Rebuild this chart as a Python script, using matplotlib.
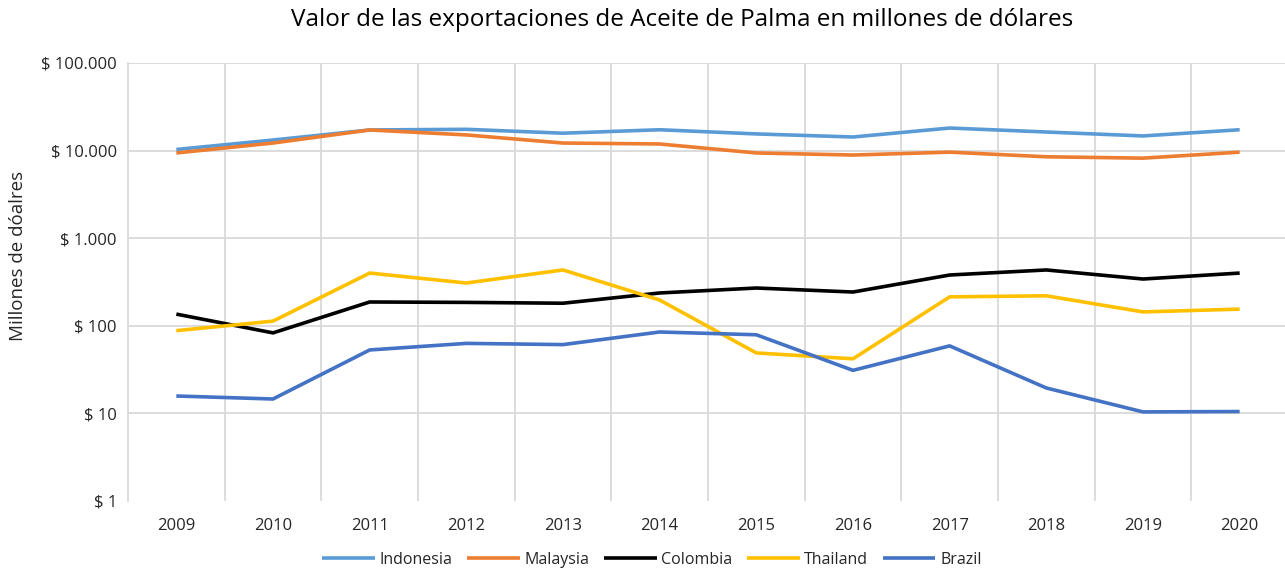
import matplotlib.pyplot as plt
from matplotlib.ticker import FixedLocator, FuncFormatter, NullLocator

plt.rcParams['font.family'] = ['Open Sans', 'DejaVu Sans']

years = ["2009", "2010", "2011", "2012", "2013", "2014",
         "2015", "2016", "2017", "2018", "2019", "2020"]

indonesia = [10300, 13200, 17200, 17500, 15800, 17300, 15500, 14300, 18100, 16300, 14700, 17300]
malaysia = [9400, 12200, 17200, 15100, 12200, 11900, 9400, 8900, 9600, 8500, 8200, 9600]
colombia = [136, 83, 187, 185, 181, 237, 270, 243, 380, 434, 342, 400]
thailand = [88, 113, 400, 308, 434, 197, 49, 42, 214, 220, 144, 155]
brazil = [15.8, 14.6, 53, 63, 61, 85, 79, 31, 59, 19.5, 10.4, 10.5]

series = [
    ("Indonesia", indonesia, "#5B9BD5"),
    ("Malaysia", malaysia, "#ED7D31"),
    ("Colombia", colombia, "#000000"),
    ("Thailand", thailand, "#FFC000"),
    ("Brazil", brazil, "#4472C4"),
]

fig = plt.figure(figsize=(12.85, 5.69), dpi=100)
ax = fig.add_axes([128 / 1285, 1 - 501 / 569, 1160 / 1285, 438 / 569])

x = list(range(len(years)))
for name, vals, color in series:
    ax.plot(x, vals, color=color, lw=2.6, label=name, solid_capstyle="butt")

ax.set_yscale("log")
ax.set_ylim(1, 100000)
ax.set_xlim(-0.5, len(years) - 0.5)

ax.yaxis.set_major_locator(FixedLocator([1, 10, 100, 1000, 10000, 100000]))
ax.yaxis.set_minor_locator(NullLocator())
ax.yaxis.set_major_formatter(FuncFormatter(lambda v, p: "$ " + f"{int(round(v)):,}".replace(",", ".")))

ax.set_xticks(x)
ax.set_xticklabels(years)
ax.set_xticks([i + 0.5 for i in range(len(years) - 1)], minor=True)

ax.grid(axis="y", which="major", color="#D9D9D9", lw=1.3)
ax.grid(axis="x", which="minor", color="#D9D9D9", lw=1.3)
ax.yaxis.get_gridlines()[0].set_visible(False)  # no line at $ 1
ax.set_axisbelow(True)

for s in ["top", "right", "bottom"]:
    ax.spines[s].set_visible(False)
ax.spines["left"].set_color("#D9D9D9")
ax.spines["left"].set_linewidth(1.3)

ax.tick_params(axis="both", which="both", length=0, labelsize=12, colors="#262626")
ax.tick_params(axis="x", pad=12)
ax.tick_params(axis="y", pad=8)

fig.text(18 / 1285, 1 - 256 / 569, "Millones de dóalres", rotation=90,
         ha="center", va="center", fontsize=13.5, color="#262626")
fig.text(682 / 1285, 1 - 20 / 569, "Valor de las exportaciones de Aceite de Palma en millones de dólares",
         ha="center", va="center", fontsize=17.5, color="#000000")

fig.legend(loc="center", bbox_to_anchor=(652 / 1285, 1 - 560 / 569), ncol=5, frameon=False,
           fontsize=11.5, handlelength=3.3, columnspacing=0.9, handletextpad=0.3,
           labelcolor="#262626")

fig.savefig("out.png", dpi=100)
